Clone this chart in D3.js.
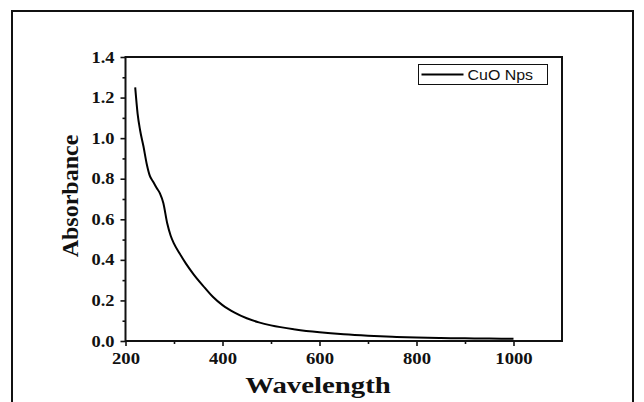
<!DOCTYPE html>
<html>
<head>
<meta charset="utf-8">
<script src="https://cdn.jsdelivr.net/npm/d3@7"></script>
<style>
  body { margin: 0; background: #fff; }
  svg { display: block; }
  .tick text { font-family: "Liberation Serif", "Times New Roman", serif; font-weight: bold; }
</style>
</head>
<body>
<div id="chart"></div>
<script>
// UV-vis spectrum
const wavelength = [220, 225, 230, 237, 244, 250, 257, 264, 271, 278, 286, 293, 300, 312, 325, 340, 360, 380, 400, 425, 450, 475, 500, 550, 600, 650, 700, 750, 800, 850, 900, 950, 1000];
const absorbance = [1.25, 1.12, 1.04, 0.96, 0.87, 0.815, 0.785, 0.755, 0.728, 0.68, 0.58, 0.52, 0.48, 0.43, 0.38, 0.33, 0.272, 0.218, 0.177, 0.14, 0.112, 0.092, 0.077, 0.057, 0.043, 0.033, 0.026, 0.021, 0.017, 0.015, 0.013, 0.012, 0.011];
const xMajor = [200, 400, 600, 800, 1000];
const yMajor = [0.0, 0.2, 0.4, 0.6, 0.8, 1.0, 1.2, 1.4];
const seriesName = "CuO Nps";

const W = 644, H = 402;
const margin = {top: 57, right: 82, bottom: 61, left: 125.5};

const svg = d3.select("#chart").append("svg")
  .attr("width", W)
  .attr("height", H);

// outer frame (bottom edge is cut off in the picture)
svg.append("path")
  .attr("d", `M12,${H} V11 H633 V${H}`)
  .attr("fill", "none")
  .attr("stroke", "#111")
  .attr("stroke-width", 2);

const x = d3.scaleLinear()
  .domain([200, 1100])
  .range([margin.left, W - margin.right]);

const y = d3.scaleLinear()
  .domain([0, 1.4])
  .range([H - margin.bottom, margin.top]);

// minor ticks
svg.append("g")
  .attr("transform", `translate(0,${y(0)})`)
  .call(d3.axisBottom(x).tickValues(d3.range(300, 1100, 200)).tickSize(3).tickFormat(""))
  .call(g => g.select(".domain").remove());
svg.append("g")
  .attr("transform", `translate(${x(200)},0)`)
  .call(d3.axisLeft(y).tickValues(d3.range(0.1, 1.4, 0.2)).tickSize(3).tickFormat(""))
  .call(g => g.select(".domain").remove());

// major ticks + labels
const xAxis = svg.append("g")
  .attr("transform", `translate(0,${y(0)})`)
  .call(d3.axisBottom(x).tickValues(xMajor).tickSize(5).tickPadding(6).tickFormat(d3.format("d")));
xAxis.select(".domain").remove();
xAxis.selectAll("text")
  .attr("font-size", 17)
  .attr("fill", "#111")
  .attr("transform", "scale(1.1,1)");

const yAxis = svg.append("g")
  .attr("transform", `translate(${x(200)},0)`)
  .call(d3.axisLeft(y).tickValues(yMajor).tickSize(5).tickPadding(6).tickFormat(d3.format(".1f")));
yAxis.select(".domain").remove();
yAxis.selectAll("text")
  .attr("font-size", 16)
  .attr("fill", "#111")
  .attr("transform", "scale(1.15,1)")
  .attr("x", -11 / 1.15);

svg.selectAll(".tick line").attr("stroke", "#111").attr("stroke-width", 1.6);

// plot frame
svg.append("rect")
  .attr("x", x(200))
  .attr("y", y(1.4))
  .attr("width", x(1100) - x(200))
  .attr("height", y(0) - y(1.4))
  .attr("fill", "none")
  .attr("stroke", "#111")
  .attr("stroke-width", 2);

// spectrum
const line = d3.line()
  .x((d, i) => x(wavelength[i]))
  .y(d => y(d))
  .curve(d3.curveMonotoneX);

svg.append("path")
  .datum(absorbance)
  .attr("fill", "none")
  .attr("stroke", "#000")
  .attr("stroke-width", 2)
  .attr("d", line);

// legend
const lg = svg.append("g").attr("transform", "translate(418.5,64.5)");
lg.append("rect")
  .attr("width", 129)
  .attr("height", 20)
  .attr("fill", "#fff")
  .attr("stroke", "#111")
  .attr("stroke-width", 1);
lg.append("line")
  .attr("x1", 3).attr("x2", 45)
  .attr("y1", 10).attr("y2", 10)
  .attr("stroke", "#000")
  .attr("stroke-width", 2);
lg.append("text")
  .attr("transform", "translate(49,15) scale(1.14,1)")
  .attr("font-family", "Liberation Sans, Arial, sans-serif")
  .attr("font-size", 14)
  .attr("fill", "#111")
  .text(seriesName);

// axis titles
svg.append("text")
  .attr("transform", "translate(318,393) scale(1.2,1)")
  .attr("text-anchor", "middle")
  .attr("font-family", "Liberation Serif, Times New Roman, serif")
  .attr("font-weight", "bold")
  .attr("font-size", 24)
  .attr("fill", "#111")
  .text("Wavelength");

svg.append("text")
  .attr("transform", "translate(78,196) rotate(-90)")
  .attr("text-anchor", "middle")
  .attr("font-family", "Liberation Serif, Times New Roman, serif")
  .attr("font-weight", "bold")
  .attr("font-size", 24)
  .attr("fill", "#111")
  .text("Absorbance");
</script>
</body>
</html>
